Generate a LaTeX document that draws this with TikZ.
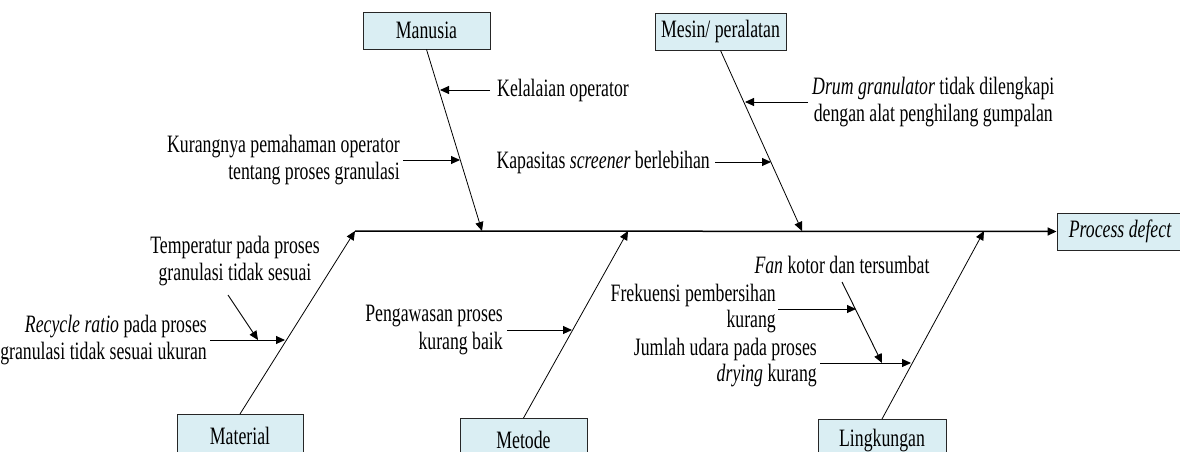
\documentclass[tikz,border=0pt]{standalone}
\usepackage{fontspec}
\setmainfont{Liberation Serif}[FakeStretch=0.71]
\usetikzlibrary{arrows.meta}
\definecolor{boxblue}{RGB}{218,238,243}
\newcommand{\fsz}{\fontsize{25}{27.5}\selectfont}
\newcommand{\fszt}{\fontsize{25}{26}\selectfont}
\tikzset{
  catbox/.style={draw=black!85, fill=boxblue, line width=0.9pt, inner sep=0pt, font=\fsz},
  txt/.style={inner sep=0pt, font=\fsz},
  arr/.style={-{Triangle[length=9pt,width=8pt]}, line width=0.9pt},
  bonearr/.style={-{Triangle[length=9pt,width=8pt]}, line width=0.8pt},
  spine/.style={-{Triangle[length=9pt,width=8pt]}, line width=1.5pt}
}
\begin{document}
\begin{tikzpicture}[x=1pt,y=-1pt]
\useasboundingbox (0,0) rectangle (1180,452);
\clip (0,0) rectangle (1180,452);

% category boxes
\node[catbox, minimum width=127pt, minimum height=37pt] (man) at (426.5,30.5) {Manusia};
\node[catbox, minimum width=131pt, minimum height=37pt] (mes) at (720.5,31.5) {Mesin/ peralatan};
\node[catbox, minimum width=126pt, minimum height=37pt] (pd) at (1120,231.5) {\itshape Process defect};
\node[catbox, minimum width=126pt, minimum height=42pt, anchor=north] (mat) at (240,414) {Material};
\node[catbox, minimum width=127pt, minimum height=42pt, anchor=north] (met) at (523.5,418) {Metode};
\node[catbox, minimum width=128pt, minimum height=42pt, anchor=north] (lin) at (882,419) {Lingkungan};

% spine points
\coordinate (s0) at (355,231);
\coordinate (sman) at (482,231);
\coordinate (smes) at (802,231);
\coordinate (smet) at (628,231);
\coordinate (slin) at (984,231);

\draw[spine] (s0) -- (pd.west);

% main bones
\draw[bonearr] (man.south) -- (sman);
\draw[bonearr] (mes.south) -- (smes);
\draw[bonearr] (mat.north) -- (s0);
\draw[bonearr] (met.north) -- (smet);
\draw[bonearr] (lin.north) -- (slin);

% Manusia causes
\node[txt, anchor=west] (kel) at (497,90) {Kelalaian operator};
\coordinate (kelp) at (440,90);
\draw[arr] ([xshift=-7pt]kel.west) -- (kelp);

\node[txt, anchor=east, align=right] (kur) at (400,160) {Kurangnya pemahaman operator\\tentang proses granulasi};
\coordinate (kurp) at (460,160);
\draw[arr] ([xshift=3pt]kur.east) -- (kurp);

% Mesin causes
\node[txt, anchor=west, align=center] (drum) at (812,102) {\textit{Drum granulator} tidak dilengkapi\\dengan alat penghilang gumpalan};
\coordinate (drump) at (745,102);
\draw[arr] ([xshift=-4pt]drum.west) -- (drump);

\node[txt, anchor=east] (kap) at (710,162) {Kapasitas \textit{screener} berlebihan};
\coordinate (kapp) at (771,162);
\draw[arr] ([xshift=5pt]kap.east) -- (kapp);

% Material causes
\node[txt, align=center] (temp) at (235,261) {Temperatur pada proses\\granulasi tidak sesuai};
\node[txt, anchor=east, align=right] (rec) at (207,340) {\textit{Recycle ratio} pada proses\\granulasi tidak sesuai ukuran};
\coordinate (recp) at (285,340);
\coordinate (tempa) at (228,295);
\coordinate (tempp) at (258,340);
\draw[arr] ([xshift=3pt]rec.east) -- (recp);
\draw[arr] (tempa) -- (tempp);

% Metode causes
\node[txt, anchor=east, align=right] (pen) at (503,330) {Pengawasan proses\\kurang baik};
\coordinate (penp) at (572,330);
\draw[arr] ([xshift=4pt]pen.east) -- (penp);

% Lingkungan causes
\node[txt] (fan) at (842,265) {\textit{Fan} kotor dan tersumbat};
\node[txt, anchor=east, align=right, font=\fszt] (fre) at (776,309) {Frekuensi pembersihan\\kurang};
\node[txt, anchor=east, align=right, font=\fszt] (jum) at (817,363) {Jumlah udara pada proses\\\textit{drying} kurang};
\coordinate (fana) at (842,282);
\coordinate (fanp) at (882,363);
\coordinate (frep) at (856,309);
\coordinate (jump) at (911,363);
\draw[arr] (fana) -- (fanp);
\draw[arr] ([xshift=2pt]fre.east) -- (frep);
\draw[arr] ([xshift=3pt]jum.east) -- (jump);
\end{tikzpicture}
\end{document}
